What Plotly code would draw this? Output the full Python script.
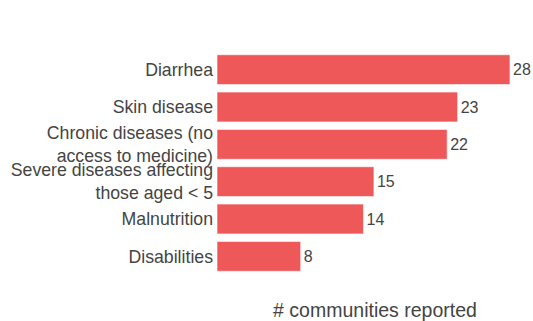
import plotly.graph_objects as go

categories = [
    "Diarrhea",
    "Skin disease",
    "Chronic diseases (no<br>access to medicine)",
    "Severe diseases affecting<br>those aged < 5",
    "Malnutrition",
    "Disabilities",
]
values = [28, 23, 22, 15, 14, 8]
x_title = "# communities reported"

fig = go.Figure(
    go.Bar(
        x=values,
        y=categories,
        orientation="h",
        text=[str(v) for v in values],
        textposition="outside",
        textfont=dict(size=16, color="#444444"),
        marker=dict(color="#ee5859", line=dict(color="rgba(255,255,255,0.6)", width=1)),
        cliponaxis=False,
        constraintext="none",
    )
)

fig.update_layout(
    width=533,
    height=321,
    margin=dict(l=217, r=0, t=51, b=46, autoexpand=False),
    paper_bgcolor="white",
    plot_bgcolor="white",
    font=dict(family="Liberation Sans, Arial, sans-serif", size=17.7, color="#444444"),
    bargap=0.2,
    showlegend=False,
)
fig.update_xaxes(
    range=[0, 30.2],
    showgrid=False,
    zeroline=False,
    showticklabels=False,
    showline=False,
    title=dict(text=x_title, font=dict(size=19.5, color="#444444"), standoff=32),
)
fig.update_yaxes(
    autorange="reversed",
    showgrid=False,
    zeroline=False,
    showline=False,
    ticks="",
    ticklabelstandoff=3,
    tickfont=dict(size=17.7, color="#444444"),
)

fig.write_html(
    "out.html",
    config={"displayModeBar": False},
    post_script="document.body.style.margin='0';document.documentElement.style.overflow='hidden';",
)
